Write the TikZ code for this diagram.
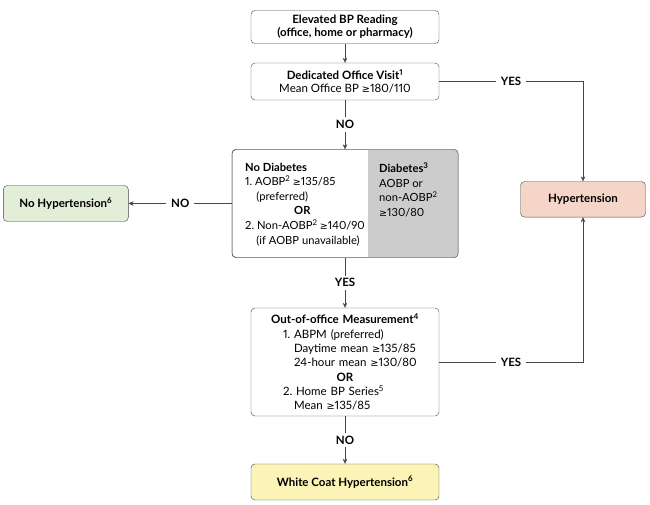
\documentclass[tikz,border=0pt]{standalone}
\usepackage{fontspec}
\setmainfont{Lato}[Numbers=Proportional]
\newfontfamily\symfont{DejaVu Sans}[Scale=0.85]
\usetikzlibrary{arrows.meta}
\definecolor{linec}{RGB}{70,70,70}
\definecolor{diabgray}{RGB}{204,204,204}
\definecolor{nohypfill}{RGB}{226,238,216}
\definecolor{hypfill}{RGB}{245,213,200}
\definecolor{wcfill}{RGB}{252,243,182}
\newcommand\atleast{{\symfont ≥}}
\frenchspacing

\begin{document}
\begin{tikzpicture}[x=1pt,y=-1pt,
  box/.style={draw=linec,fill=white,rounded corners=4pt,align=center,inner sep=0pt,
    font=\fontsize{11.5}{13.3}\selectfont},
  lbl/.style={fill=white,font=\bfseries\fontsize{11.5}{12}\selectfont,inner xsep=5pt,inner ysep=3pt},
  arr/.style={draw=linec,-{Stealth[length=5pt,width=4.5pt]}},
  txt/.style={anchor=north west,align=left,inner sep=0pt,font=\fontsize{11.2}{14.6}\selectfont}]
  \useasboundingbox (0,0) rectangle (650,505);
  \node[box,minimum width=188,minimum height=33] (reading) at (345,27)
    {\textbf{Elevated BP Reading}\\\textbf{(office, home or pharmacy)}};
  \node[box,minimum width=188,minimum height=37] (visit) at (345,81.5)
    {\textbf{Dedicated Office Visit\textsuperscript{1}}\\Mean Office BP \atleast180/110};
  \node[box,minimum width=225.7,minimum height=108] (screen) at (345,203.5) {};
  \begin{scope}
    \clip[rounded corners=4pt] (screen.north west) rectangle (screen.south east);
    \fill[diabgray] (367.7,140) rectangle (screen.south east);
  \end{scope}
  \draw[linec,rounded corners=4pt] (screen.north west) rectangle (screen.south east);
  \node[txt] (nodiab) at (245,162.5)
    {\textbf{No Diabetes}\\
     1. AOBP\textsuperscript{2}\hspace{2.5pt}\atleast135/85\\
     \hspace*{1em}(preferred)\\
     \hspace*{49pt}\textbf{OR}\\
     2. Non-AOBP\textsuperscript{2}\hspace{2.5pt}\atleast140/90\\
     \hspace*{1em}(if AOBP unavailable)};
  \node[txt] (diab) at (379,162.5)
    {\textbf{Diabetes\textsuperscript{3}}\\AOBP or\\non-AOBP\textsuperscript{2}\\\atleast130/80};
  \node[box,fill=nohypfill,minimum width=125,minimum height=36] (nohyp) at (65.8,203.5)
    {\textbf{No Hypertension\textsuperscript{6}}};
  \node[box,fill=hypfill,minimum width=125,minimum height=35.5] (hyper) at (583,199.3)
    {\textbf{Hypertension}};
  \node[box,align=left,text width=170,minimum width=188,minimum height=108,
    font=\fontsize{11.5}{14.3}\selectfont] (oom) at (345,362)
    {\hspace*{\fill}\textbf{Out-of-office Measurement\textsuperscript{4}}\hspace*{\fill}\null\\
     \hspace*{23pt}1. ABPM (preferred)\\
     \hspace*{34pt}Daytime mean \atleast135/85\\
     \hspace*{34pt}24-hour mean \atleast130/80\\
     \hspace*{\fill}\textbf{OR}\hspace*{\fill}\null\\
     \hspace*{23pt}2. Home BP Series\textsuperscript{5}\\
     \hspace*{34pt}Mean \atleast135/85};
  \node[box,fill=wcfill,minimum width=188,minimum height=36] (whitecoat) at (345,482)
    {\textbf{White Coat Hypertension\textsuperscript{6}}};
  \draw[arr] (reading) -- (visit);
  \draw[arr] (visit) -- node[lbl]{NO} (screen);
  \draw[arr] (visit.east) -- node[lbl]{YES} (visit.east -| hyper) -- (hyper);
  \draw[arr] (screen) -- node[lbl]{NO} (nohyp);
  \draw[arr] (screen) -- node[lbl]{YES} (oom);
  \draw[arr] (oom.east) -- node[lbl]{YES} (oom.east -| hyper) -- (hyper);
  \draw[arr] (oom) -- node[lbl]{NO} (whitecoat);
\end{tikzpicture}
\end{document}
